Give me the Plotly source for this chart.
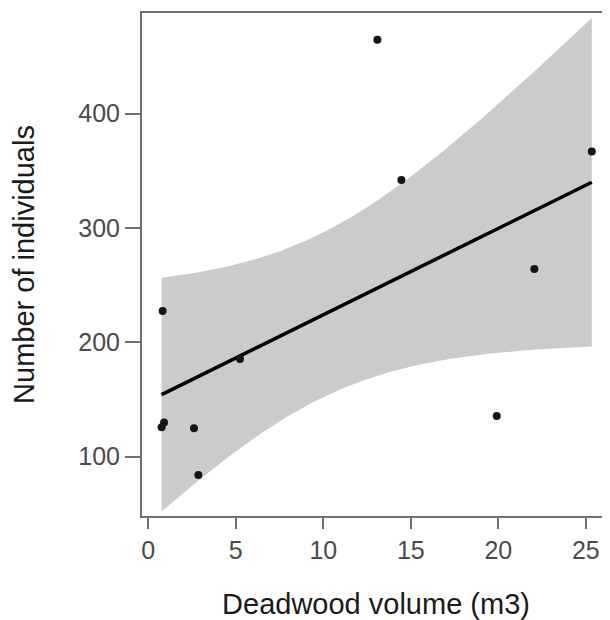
import numpy as np
import plotly.graph_objects as go

# Data
deadwood_volume = [13.09, 25.34, 14.46, 22.06, 0.82, 5.24, 19.91, 0.90, 0.76, 2.61, 2.86]
n_individuals = [464.5, 366.8, 342.0, 264.1, 227.4, 185.4, 135.5, 129.7, 125.6, 124.7, 83.9]

x_ticks = [0, 5, 10, 15, 20, 25]
y_ticks = [100, 200, 300, 400]

x_title = "Deadwood volume (m3)"
y_title = "Number of individuals"

# Linear fit with 95% confidence band (derived from the data)
T_975_DF9 = 2.262157
x = np.array(deadwood_volume)
y = np.array(n_individuals)
n = len(x)
slope, intercept = np.polyfit(x, y, 1)
resid = y - (intercept + slope * x)
s = np.sqrt(np.sum(resid ** 2) / (n - 2))
sxx = np.sum((x - x.mean()) ** 2)
xs = np.linspace(x.min(), x.max(), 200)
fit = intercept + slope * xs
half = T_975_DF9 * s * np.sqrt(1.0 / n + (xs - x.mean()) ** 2 / sxx)
upper = fit + half
lower = fit - half

font_family = "Liberation Sans, Arial, Helvetica, sans-serif"
axis_gray = "#707070"

fig = go.Figure()
fig.add_trace(go.Scatter(
    x=np.concatenate([xs, xs[::-1]]),
    y=np.concatenate([upper, lower[::-1]]),
    fill="toself", fillcolor="#cbcbcb", line=dict(width=0),
    mode="lines", hoverinfo="skip", showlegend=False,
))
fig.add_trace(go.Scatter(
    x=xs, y=fit, mode="lines",
    line=dict(color="#000000", width=3.5), showlegend=False,
))
fig.add_trace(go.Scatter(
    x=deadwood_volume, y=n_individuals, mode="markers",
    marker=dict(color="#151515", size=8), showlegend=False,
))

# page body has an 8px default margin, so the figure is sized to fit the window
fig.update_layout(
    width=602, height=612,
    margin=dict(l=134, r=0, t=5, b=104, autoexpand=False),
    paper_bgcolor="white", plot_bgcolor="white",
    font=dict(family=font_family),
)
fig.update_xaxes(
    range=[-0.36, 26.38], tickvals=x_ticks, automargin=False,
    showgrid=False, zeroline=False,
    showline=True, linecolor=axis_gray, linewidth=2, mirror=True,
    ticks="outside", ticklen=11, tickwidth=2, tickcolor=axis_gray,
    tickfont=dict(size=25, color="#4a4a4a", family=font_family),
    title=dict(text=x_title, font=dict(size=29, color="#1a1a1a", family=font_family), standoff=32),
)
fig.update_yaxes(
    range=[48, 488], tickvals=y_ticks, automargin=False,
    showgrid=False, zeroline=False,
    showline=True, linecolor=axis_gray, linewidth=2,
    ticks="outside", ticklen=15, tickwidth=2, tickcolor=axis_gray,
    tickfont=dict(size=25, color="#4a4a4a", family=font_family),
    title=dict(text=y_title, font=dict(size=29, color="#1a1a1a", family=font_family), standoff=37),
)

fig.write_html("out.html")
